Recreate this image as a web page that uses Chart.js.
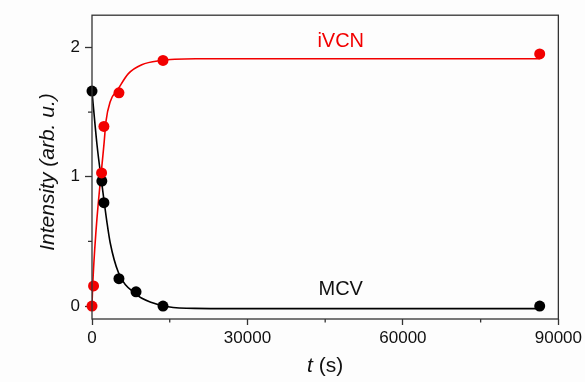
<!DOCTYPE html>
<html><head><meta charset="utf-8">
<script src="https://cdn.jsdelivr.net/npm/chart.js@4/dist/chart.umd.min.js"></script>
<style>html,body{margin:0;padding:0;background:#fdfdfd;}canvas{display:block;}</style>
</head><body>
<canvas id="c" width="585" height="382"></canvas>
<script>
// measured points
const timesMCV = [0, 1900, 2300, 5200, 8500, 13700, 86400];
const mcvValues = [1.663, 0.967, 0.80, 0.212, 0.11, 0.0, 0.0];
const timesIVCN = [0, 300, 1850, 2300, 5200, 13700, 86400];
const ivcnValues = [0.0, 0.156, 1.03, 1.39, 1.65, 1.90, 1.95];
// fitted curves
const mcvFitTimes = [0, 960, 1920, 2880, 3510, 5100, 8310, 11510, 14700, 19820, 30000, 86400];
const mcvFitValues = [1.66, 1.25, 0.94, 0.65, 0.49, 0.26, 0.097, 0.028, -0.005, -0.018, -0.02, -0.02];
const ivcnFitTimes = [0, 115, 770, 2360, 2690, 3510, 5100, 7020, 9600, 13430, 15990, 20000, 86400];
const ivcnFitValues = [0.0, 0.14, 0.58, 1.274, 1.427, 1.58, 1.683, 1.798, 1.867, 1.90, 1.909, 1.913, 1.913];
// axes
const xTicks = [0, 30000, 60000, 90000];
const xMinorTicks = [15000, 45000, 75000];
const yTicks = [0, 1, 2];
const yMinorTicks = [0.5, 1.5];
const seriesLabels = ['MCV', 'iVCN'];
const labelAnchorX = 48000;
const labelAnchorY = [0.13, 2.05];

const FONT = '"Liberation Sans", Arial, sans-serif';
const AX = '#333333';
const RED = '#f20000';

const toXY = (xs, ys) => xs.map((x, i) => ({x: x, y: ys[i]}));

const decor = {
  id: 'decor',
  beforeDraw(chart) {
    const ctx = chart.ctx;
    ctx.save();
    ctx.fillStyle = '#fdfdfd';
    ctx.fillRect(0, 0, chart.width, chart.height);
    ctx.restore();
  },
  afterDraw(chart) {
    const {ctx, chartArea: a, scales: {x, y}} = chart;
    ctx.save();
    ctx.strokeStyle = AX;
    ctx.lineWidth = 1.3;
    ctx.strokeRect(a.left, a.top, a.right - a.left, a.bottom - a.top);
    ctx.beginPath();
    xMinorTicks.forEach(v => { const p = x.getPixelForValue(v); ctx.moveTo(p, a.bottom); ctx.lineTo(p, a.bottom + 3.5); });
    yMinorTicks.forEach(v => { const p = y.getPixelForValue(v); ctx.moveTo(a.left - 4, p); ctx.lineTo(a.left, p); });
    ctx.stroke();
    // series labels
    ctx.textAlign = 'center';
    ctx.textBaseline = 'middle';
    ctx.font = '20px ' + FONT;
    ctx.fillStyle = '#111';
    ctx.fillText(seriesLabels[0], x.getPixelForValue(labelAnchorX), y.getPixelForValue(labelAnchorY[0]));
    ctx.fillStyle = RED;
    ctx.fillText(seriesLabels[1], x.getPixelForValue(labelAnchorX), y.getPixelForValue(labelAnchorY[1]));
    // x title: italic t + " (s)"
    ctx.fillStyle = '#111';
    ctx.textAlign = 'left';
    ctx.font = 'italic 21px ' + FONT;
    const w1 = ctx.measureText('t').width;
    ctx.font = '21px ' + FONT;
    const w2 = ctx.measureText(' (s)').width;
    const cx = (a.left + a.right) / 2;
    const sx = cx - (w1 + w2) / 2;
    ctx.font = 'italic 21px ' + FONT;
    ctx.fillText('t', sx, 366);
    ctx.font = '21px ' + FONT;
    ctx.fillText(' (s)', sx + w1, 366);
    // y title
    ctx.translate(48, 172);
    ctx.rotate(-Math.PI / 2);
    ctx.textAlign = 'center';
    ctx.font = 'italic 21px ' + FONT;
    ctx.fillText('Intensity (arb. u.)', 0, 0);
    ctx.restore();
  }
};

new Chart(document.getElementById('c'), {
  type: 'line',
  data: {
    datasets: [
      {data: toXY(timesIVCN, ivcnValues), showLine: false, pointRadius: 5.5, pointBackgroundColor: RED, pointBorderColor: RED, pointBorderWidth: 0, order: 0, clip: false},
      {data: toXY(timesMCV, mcvValues), showLine: false, pointRadius: 5.5, pointBackgroundColor: '#000', pointBorderColor: '#000', pointBorderWidth: 0, order: 1, clip: false},
      {data: toXY(ivcnFitTimes, ivcnFitValues), borderColor: RED, borderWidth: 1.6, pointRadius: 0, cubicInterpolationMode: 'monotone', order: 2},
      {data: toXY(mcvFitTimes, mcvFitValues), borderColor: '#000', borderWidth: 1.6, pointRadius: 0, cubicInterpolationMode: 'monotone', order: 3}
    ]
  },
  options: {
    responsive: false,
    animation: false,
    devicePixelRatio: 1,
    layout: {padding: {top: 13, right: 24, left: 0, bottom: 0}},
    plugins: {legend: {display: false}, tooltip: {enabled: false}},
    scales: {
      x: {
        type: 'linear', min: 0, max: 90000,
        afterBuildTicks: s => { s.ticks = xTicks.map(v => ({value: v})); },
        afterFit: s => { s.height = 63; },
        grid: {drawOnChartArea: false, tickLength: 6, tickColor: AX, tickWidth: 1.3},
        border: {display: false},
        ticks: {font: {family: FONT, size: 17}, color: '#111', padding: 3, maxRotation: 0, autoSkip: false, callback: v => String(v)}
      },
      y: {
        type: 'linear', min: -0.1, max: 2.25,
        afterBuildTicks: s => { s.ticks = yTicks.map(v => ({value: v})); },
        afterFit: s => { s.width = 92; },
        grid: {drawOnChartArea: false, tickLength: 7, tickColor: AX, tickWidth: 1.3},
        border: {display: false},
        ticks: {font: {family: FONT, size: 17}, color: '#111', padding: 5, callback: v => String(v)}
      }
    }
  },
  plugins: [decor]
});
</script>
</body></html>
